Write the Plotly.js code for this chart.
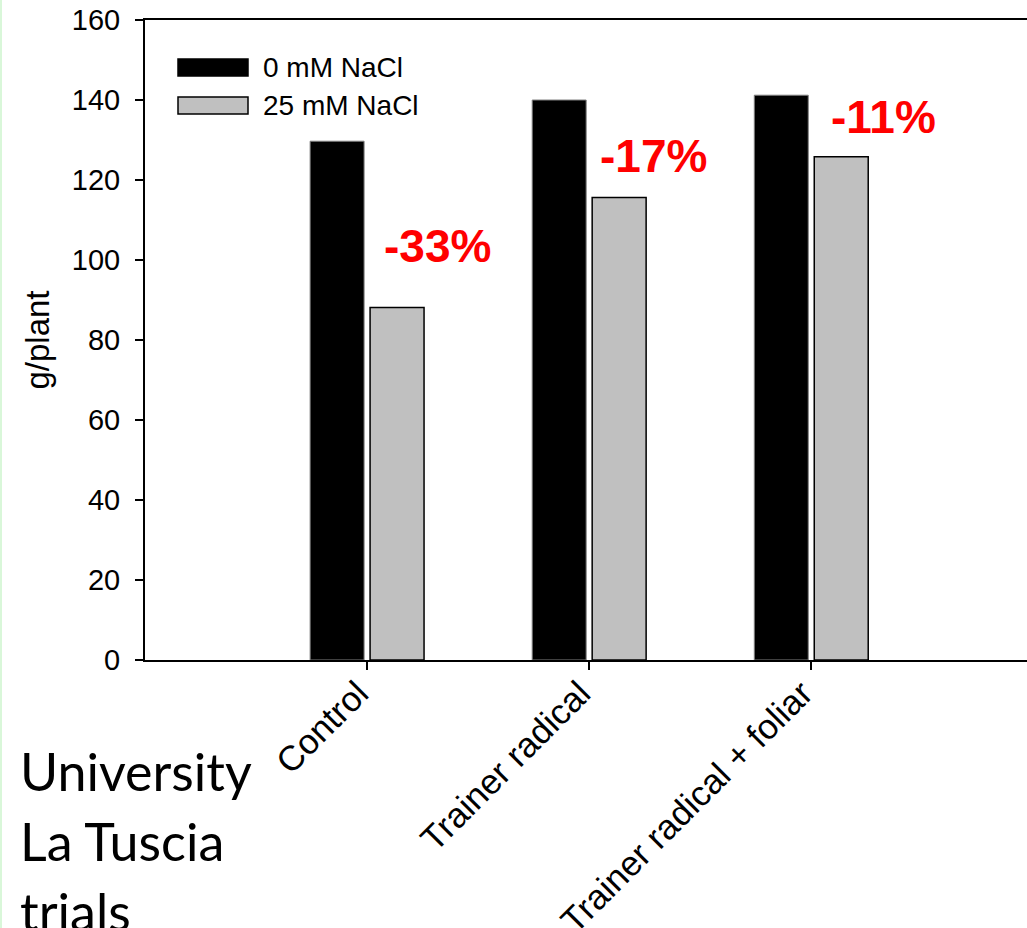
<!DOCTYPE html>
<html>
<head>
<meta charset="utf-8">
<script src="https://cdn.plot.ly/plotly-3.0.1.min.js"></script>
<style>
  html, body { margin: 0; padding: 0; background: #fff; overflow: hidden; }
  #wrap { position: relative; width: 1027px; height: 928px; overflow: hidden; border-left: 2px solid #d9f7d9; box-sizing: border-box; }
  #chart { position: absolute; left: -2px; top: 0; }
</style>
</head>
<body>
<div id="wrap"><div id="chart"></div></div>
<script>
// ---- data ----
const categories = ["Control", "Trainer radical", "Trainer radical + foliar"];
const seriesNames = ["0 mM NaCl", "25 mM NaCl"];
const values0mM = [129.7, 140.0, 141.2];
const values25mM = [88.1, 115.6, 125.8];
const reductionLabels = ["-33%", "-17%", "-11%"];
const yTickValues = [0, 20, 40, 60, 80, 100, 120, 140, 160];
const sideNote = ["University", "La Tuscia", "trials"];

const FONT = "Liberation Sans, Arial, sans-serif";

const traces = [
  {
    type: "bar", name: seriesNames[0], x: categories, y: values0mM,
    marker: { color: "#000000", line: { color: "#808080", width: 1 } },
    showlegend: false, hoverinfo: "y"
  },
  {
    type: "bar", name: seriesNames[1], x: categories, y: values25mM,
    marker: { color: "#c0c0c0", line: { color: "#000000", width: 1.5 } },
    showlegend: false, hoverinfo: "y"
  }
];

// annotation positions: place percent labels above the 25 mM bars
const pctOffsets = [0.316, 0.288, 0.326];
const pctY = [103.5, 126.1, 135.8];
const annotations = reductionLabels.map((t, i) => ({
  x: i + pctOffsets[i], y: pctY[i], xref: "x", yref: "y",
  text: t, showarrow: false,
  font: { family: FONT, size: 46, color: "#ff0000", weight: "bold" },
  xanchor: "center", yanchor: "middle"
}));

// legend (custom, to match large swatches)
const legX0 = (178 - 145) / 895, legX1 = (248 - 145) / 895;
const legendRows = [
  { y0: (660 - 76) / 640, y1: (660 - 59) / 640, color: "#000000", line: "#000000" },
  { y0: (660 - 114) / 640, y1: (660 - 97) / 640, color: "#c0c0c0", line: "#000000" }
];
const shapes = legendRows.map(r => ({
  type: "rect", xref: "paper", yref: "paper",
  x0: legX0, x1: legX1, y0: r.y0, y1: r.y1,
  fillcolor: r.color, line: { color: r.line, width: 1.5 }
}));
legendRows.forEach((r, i) => {
  annotations.push({
    xref: "paper", yref: "paper", x: (261 - 145) / 895, y: (r.y0 + r.y1) / 2,
    text: seriesNames[i], showarrow: false, xanchor: "left", yanchor: "middle",
    font: { family: FONT, size: 28, color: "#000" }
  });
});

// side note text, one annotation per line (line pitch 70px)
sideNote.forEach((line, i) => {
  annotations.push({
    xref: "paper", yref: "paper", x: (18 - 145) / 895, y: (660 - (738 + 70 * i)) / 640,
    text: line, showarrow: false, xanchor: "left", yanchor: "top", align: "left",
    font: { family: "Lato, Carlito, sans-serif", size: 52, color: "#000" }
  });
});

const layout = {
  width: 1050, height: 980,
  margin: { l: 145, r: 10, t: 20, b: 320 },
  paper_bgcolor: "#ffffff", plot_bgcolor: "#ffffff",
  barmode: "group", bargap: 0.46, bargroupgap: 0.1,
  font: { family: FONT, color: "#000" },
  xaxis: {
    type: "category", range: [-1, 3.03],
    showline: true, linecolor: "#000", linewidth: 2, mirror: true,
    ticks: "outside", ticklen: 8, tickwidth: 2, tickcolor: "#000",
    tickangle: -45, tickfont: { family: FONT, size: 35, color: "#000" },
    ticklabelstandoff: -11, ticklabelshift: -9,
    showgrid: false, zeroline: false, fixedrange: true
  },
  yaxis: {
    range: [0, 160], tickvals: yTickValues,
    showline: true, linecolor: "#000", linewidth: 2,
    ticks: "outside", ticklen: 8, tickwidth: 2, tickcolor: "#000",
    tickfont: { family: FONT, size: 29, color: "#000" },
    ticklabelstandoff: 9,
    showgrid: false, zeroline: false, fixedrange: true,
    title: { text: "g/plant", font: { family: FONT, size: 33, color: "#000" }, standoff: 12 }
  },
  shapes: shapes,
  annotations: annotations,
  showlegend: false
};

Plotly.newPlot("chart", traces, layout, { displayModeBar: false, staticPlot: true });
</script>
</body>
</html>
